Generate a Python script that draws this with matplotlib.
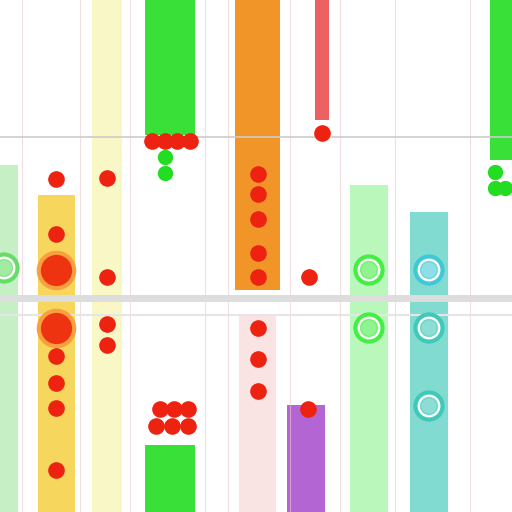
import matplotlib
matplotlib.use("Agg")
import matplotlib.pyplot as plt

# bars: center x, width, top y, bottom y, color, alpha
bar_x = [9, 56, 107, 170, 170, 257, 257, 322, 306, 369, 429, 501]
bar_w = [18, 37, 30, 50, 50, 45, 37, 14, 38, 38, 38, 22]
bar_top = [165, 195, 0, 0, 445, 0, 315, 0, 405, 185, 212, 0]
bar_bot = [512, 512, 512, 135, 512, 290, 512, 120, 512, 512, 512, 160]
bar_col = ["#8ee08e", "#f5c518", "#f7f2a0", "#22dd22", "#22dd22", "#f08a10",
           "#f6c8c8", "#e83a3a", "#a040c8", "#66ee66", "#40c8b8", "#22dd22"]
bar_alpha = [0.5, 0.7, 0.6, 0.9, 0.9, 0.9, 0.5, 0.8, 0.8, 0.45, 0.65, 0.9]

red_x = [152, 165, 177, 190, 322, 56, 107, 258, 258, 258, 258, 258, 56, 107, 309,
         107, 107, 56, 56, 56, 56, 258, 258, 258, 160, 174, 188, 156, 172, 188, 308]
red_y = [141, 141, 141, 141, 133, 179, 178, 174, 194, 219, 253, 277, 234, 277, 277,
         324, 345, 356, 383, 408, 470, 328, 359, 391, 409, 409, 409, 426, 426, 426, 409]
big_x = [56, 56]
big_y = [270, 328]
green_x = [165, 165, 495, 495, 505]
green_y = [157, 173, 172, 188, 188]
ring_x = [369, 429, 369, 429, 429, 4]
ring_y = [270, 270, 328, 328, 406, 268]
ring_col = ["#44ee44", "#40c8d8", "#44ee44", "#40c8b8", "#40c8b8", "#66dd66"]

fig = plt.figure(figsize=(5.12, 5.12), dpi=100)
ax = fig.add_axes([0, 0, 1, 1])
ax.set_xlim(0, 512)
ax.set_ylim(512, 0)
ax.axis("off")

for xv in [22, 80, 130, 205, 228, 290, 340, 395, 470]:
    ax.axvline(xv, color="#e8c8c8", lw=0.8, alpha=0.6)

for x, w, t, b, c, a in zip(bar_x, bar_w, bar_top, bar_bot, bar_col, bar_alpha):
    ax.bar(x, b - t, width=w, bottom=t, color=c, alpha=a, edgecolor="none")

ax.axhline(137, color="#cccccc", lw=1.2)
ax.axhline(298, color="#dddddd", lw=5)
ax.axhline(315, color="#e6e6e6", lw=1.5)

ax.scatter(ring_x, ring_y, s=380, facecolor="#ffffff", edgecolor=ring_col, linewidth=3, zorder=3)
ax.scatter(ring_x, ring_y, s=150, color=ring_col, alpha=0.6, zorder=4)
ax.scatter(big_x, big_y, s=650, color="#ee3311", edgecolor="#f8a040", linewidth=3, zorder=5)
ax.scatter(red_x, red_y, s=120, color="#ee2211", zorder=5)
ax.scatter(green_x, green_y, s=100, color="#22dd22", zorder=5)

fig.savefig("out.png", dpi=100)
